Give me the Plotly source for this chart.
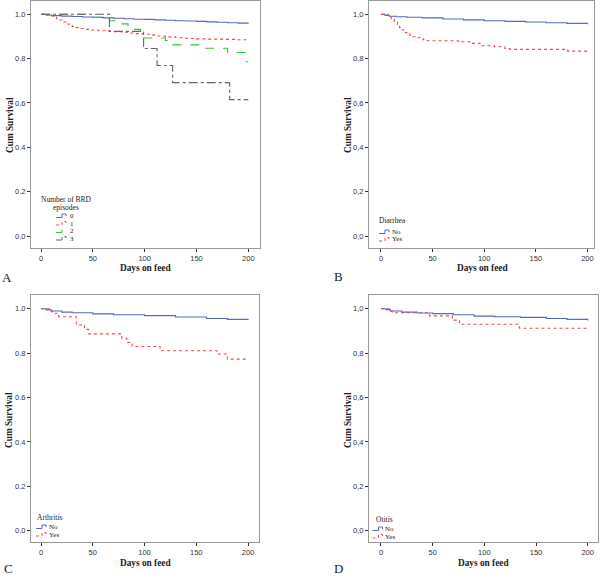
import plotly.graph_objects as go

W, H = 600, 578

# ---------------- data ----------------
# Panel A: Number of BRD episodes
A_days_0 = [0, 5, 10, 20, 30, 40, 50, 60, 70, 80, 90, 100, 110, 120, 130, 140, 150, 160, 170, 180, 190, 200]
A_surv_0 = [1.0, 0.997, 0.994, 0.992, 0.990, 0.988, 0.986, 0.984, 0.982, 0.980, 0.978, 0.977, 0.975, 0.973, 0.971, 0.970, 0.968, 0.966, 0.964, 0.962, 0.960, 0.959]
A_days_1 = [0, 5, 8, 12, 15, 18, 21, 24, 27, 30, 34, 38, 42, 48, 55, 62, 70, 78, 86, 92, 98, 105, 112, 120, 130, 140, 150, 160, 175, 190, 200]
A_surv_1 = [1.0, 0.997, 0.993, 0.987, 0.980, 0.974, 0.965, 0.956, 0.950, 0.945, 0.940, 0.936, 0.932, 0.929, 0.926, 0.924, 0.922, 0.919, 0.916, 0.913, 0.910, 0.906, 0.902, 0.898, 0.894, 0.891, 0.889, 0.888, 0.887, 0.885, 0.885]
A_days_2 = [0, 48, 66, 72, 84, 96, 99, 120, 127, 153, 180, 197, 200]
A_surv_2 = [1.0, 0.986, 0.971, 0.957, 0.932, 0.910, 0.893, 0.882, 0.862, 0.847, 0.828, 0.786, 0.786]
A_days_3 = [0, 66, 99, 112, 127, 182, 200]
A_surv_3 = [1.0, 0.923, 0.846, 0.769, 0.692, 0.615, 0.615]

# Panel B: Diarrhea
B_days_no = [0, 4, 8, 15, 25, 40, 60, 80, 100, 120, 140, 160, 180, 200]
B_surv_no = [1.0, 0.995, 0.991, 0.989, 0.987, 0.984, 0.979, 0.975, 0.971, 0.968, 0.965, 0.962, 0.959, 0.955]
B_days_yes = [0, 7, 10, 13, 16, 18, 20, 22, 25, 28, 31, 35, 38, 41, 44, 60, 75, 86, 96, 110, 120, 125, 181, 200]
B_surv_yes = [1.0, 0.989, 0.979, 0.965, 0.952, 0.940, 0.930, 0.918, 0.912, 0.905, 0.899, 0.894, 0.889, 0.885, 0.881, 0.881, 0.876, 0.869, 0.858, 0.854, 0.846, 0.842, 0.834, 0.834]

# Panel C: Arthritis
C_days_no = [0, 5, 10, 20, 30, 50, 70, 100, 130, 160, 180, 200]
C_surv_no = [1.0, 0.995, 0.990, 0.985, 0.982, 0.977, 0.973, 0.969, 0.963, 0.956, 0.952, 0.948]
C_days_yes = [0, 9, 11, 17, 34, 42, 46, 78, 83, 88, 115, 170, 180, 200]
C_surv_yes = [1.0, 0.989, 0.980, 0.964, 0.927, 0.907, 0.887, 0.867, 0.848, 0.830, 0.811, 0.796, 0.773, 0.773]

# Panel D: Otitis
D_days_no = [0, 5, 9, 20, 35, 50, 70, 90, 110, 135, 160, 180, 200]
D_surv_no = [1.0, 0.996, 0.990, 0.985, 0.981, 0.978, 0.973, 0.967, 0.964, 0.961, 0.956, 0.952, 0.947]
D_days_yes = [0, 9, 11, 47, 69, 76, 134, 200]
D_surv_yes = [1.0, 0.988, 0.982, 0.968, 0.949, 0.930, 0.912, 0.912]

x_ticks = [0, 50, 100, 150, 200]
y_ticks = [0.0, 0.2, 0.4, 0.6, 0.8, 1.0]
y_labels_dot = ["0.0", "0.2", "0.4", "0.6", "0.8", "1.0"]
y_labels_comma = ["0,0", "0,2", "0,4", "0,6", "0,8", "1,0"]

x_title = "Days on feed"
y_title = "Cum Survival"
panel_letters = ["A", "B", "C", "D"]

# ---------------- styles ----------------
BLUE = "#5468c4"
RED = "#ee4a4a"
GREEN = "#33c833"
GRAY = "#666666"
SERIF = "Liberation Serif, Times New Roman, serif"
SANS = "Liberation Sans, Arial, sans-serif"

def px(x):
    return x / W

def py(y):
    return 1 - y / H

fig = go.Figure()

panels = [
    ("", (31, 260, 1, 248), [-9.65, 211.3], [-0.054, 1.06], y_labels_dot),
    ("2", (369, 594, 1, 248), [-11.6, 206.4], [-0.054, 1.06], y_labels_comma),
    ("3", (31, 259, 295, 542), [-9.7, 210.6], [-0.051, 1.062], y_labels_dot),
    ("4", (369, 597.5, 295, 542), [-11.6, 209.5], [-0.051, 1.062], y_labels_comma),
]

series = [
    [(A_days_0, A_surv_0, BLUE, "solid"), (A_days_1, A_surv_1, RED, "dot"),
     (A_days_2, A_surv_2, GREEN, "dash"), (A_days_3, A_surv_3, GRAY, "dashdot")],
    [(B_days_no, B_surv_no, BLUE, "solid"), (B_days_yes, B_surv_yes, RED, "dot")],
    [(C_days_no, C_surv_no, BLUE, "solid"), (C_days_yes, C_surv_yes, RED, "dot")],
    [(D_days_no, D_surv_no, BLUE, "solid"), (D_days_yes, D_surv_yes, RED, "dot")],
]

layout = dict(
    width=W, height=H, margin=dict(l=0, r=0, t=0, b=0),
    paper_bgcolor="white", plot_bgcolor="white", showlegend=False,
)

for (suffix, (l, r, t, b), xr, yr, ytt), ser in zip(panels, series):
    xa = "xaxis" + suffix
    ya = "yaxis" + suffix
    layout[xa] = dict(
        domain=[px(l), px(r)], range=xr, anchor="y" + suffix,
        tickvals=x_ticks, ticks="outside", ticklen=3, tickcolor="#333",
        showline=True, linecolor="#999", linewidth=1, mirror=True,
        showgrid=False, zeroline=False,
        tickfont=dict(family=SANS, size=7.5, color="#333"),
    )
    layout[ya] = dict(
        domain=[py(b), py(t)], range=yr, anchor="x" + suffix,
        tickvals=y_ticks, ticktext=ytt, ticks="outside", ticklen=3, tickcolor="#333",
        showline=True, linecolor="#999", linewidth=1, mirror=True,
        showgrid=False, zeroline=False,
        tickfont=dict(family=SANS, size=7.5, color="#333"),
    )
    for d, s, c, dash in ser:
        fig.add_trace(go.Scatter(
            x=d, y=s, mode="lines", line=dict(color=c, width=1.1, dash=dash, shape="hv"),
            xaxis="x" + suffix, yaxis="y" + suffix, hoverinfo="skip",
        ))

fig.update_layout(**layout)

ann = []
shapes = []

def text(x, y, s, size=8, bold=False, angle=0, xanchor="center", family=SERIF, color="#222"):
    ann.append(dict(
        x=px(x), y=py(y), xref="paper", yref="paper", text=("<b>%s</b>" % s) if bold else s,
        showarrow=False, textangle=angle, xanchor=xanchor, yanchor="middle",
        font=dict(family=family, size=size, color=color),
    ))

# axis titles
for (xc, yc_x), (yx, yy) in [((145.5, 268), (10, 125)), ((482, 268), (348, 125)),
                             ((145, 563), (9, 420)), ((483, 563), (348, 420))]:
    text(xc, yc_x, x_title, size=9.3, bold=True)
    text(yx, yy, y_title, size=9.3, bold=True, angle=-90)

# panel letters
for (lx, ly), letter in zip([(7, 277), (338, 276), (8, 568), (338, 568)], panel_letters):
    text(lx, ly, letter, size=13)

def icon(x0, yc, color, dash):
    x1 = x0 + 6
    x2 = x0 + 10
    path = "M %f,%f L %f,%f L %f,%f L %f,%f L %f,%f" % (
        px(x0), py(yc + 1.5), px(x1), py(yc + 1.5), px(x1), py(yc - 2),
        px(x2), py(yc - 2), px(x2), py(yc))
    shapes.append(dict(type="path", path=path, xref="paper", yref="paper",
                       line=dict(color=color, width=1, dash=dash)))

LF = 7
# Legend A
text(66, 199, "Number of BRD", size=7.5)
text(66, 207, "episodes", size=7.5)
for (lab, c, dash), yy in zip([("0", BLUE, "solid"), ("1", RED, "dot"),
                               ("2", GREEN, "dash"), ("3", GRAY, "dashdot")], [216, 223.5, 231, 238.5]):
    icon(56, yy, c, dash)
    text(67.5, yy, lab, size=LF, xanchor="left")

# Legend B
text(377, 221, "Diarrhea", size=7.5, xanchor="left")
for (lab, c, dash), yy in zip([("No", BLUE, "solid"), ("Yes", RED, "dot")], [232, 239.5]):
    icon(379, yy, c, dash)
    text(389.5, yy, lab, size=LF, xanchor="left")

# Legend C
text(35, 517, "Arthritis", size=7.5, xanchor="left")
for (lab, c, dash), yy in zip([("No", BLUE, "solid"), ("Yes", RED, "dot")], [527, 534.5]):
    icon(36, yy, c, dash)
    text(46.5, yy, lab, size=LF, xanchor="left")

# Legend D
text(374, 519, "Otitis", size=7.5, xanchor="left")
for (lab, c, dash), yy in zip([("No", BLUE, "solid"), ("Yes", RED, "dot")], [529, 536.5]):
    icon(372.5, yy, c, dash)
    text(383, yy, lab, size=LF, xanchor="left")

fig.update_layout(annotations=ann, shapes=shapes)
fig.write_html(
    "out.html",
    config={"displayModeBar": False},
    post_script="document.body.style.margin='0';document.body.style.padding='0';document.body.style.overflow='hidden';",
)
